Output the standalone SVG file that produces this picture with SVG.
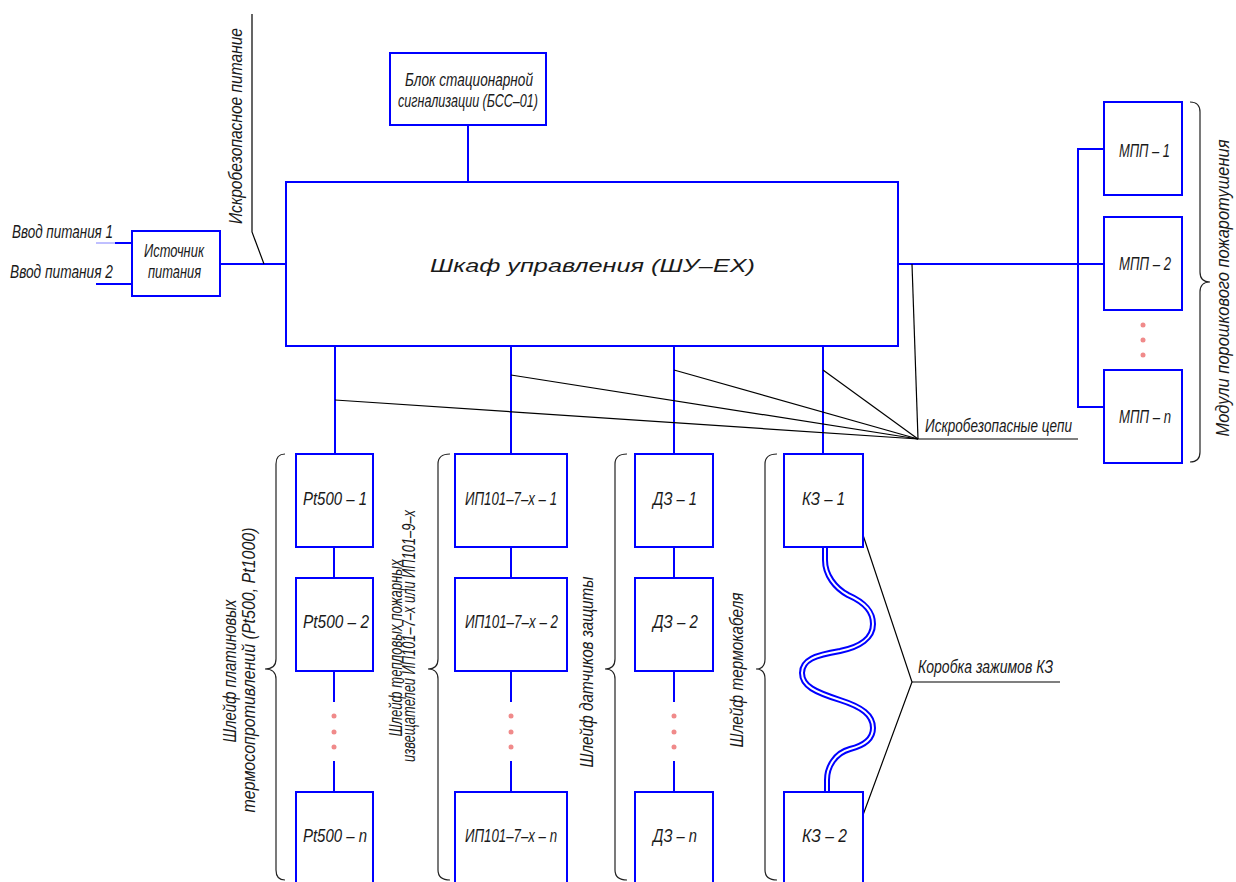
<svg xmlns="http://www.w3.org/2000/svg" width="1236" height="882" viewBox="0 0 1236 882">
<style>
.box{fill:#fff;stroke:#0000ff;stroke-width:2}
.w{fill:none;stroke:#0000ff;stroke-width:2}
.k{fill:none;stroke:#000;stroke-width:1.2}
.br{fill:none;stroke:#222;stroke-width:1.2}
.dot{fill:#f08a8a}
text{font-family:"Liberation Sans","DejaVu Sans",sans-serif;font-style:italic;fill:#1a1a1a;font-size:19px}
</style>
<rect width="1236" height="882" fill="#fff"/>
<g id="connectors">
  <line x1="96" y1="243" x2="115" y2="243" stroke="#8080ff" stroke-width="1"/>
  <line x1="115" y1="243" x2="132" y2="243" class="w"/>
  <line x1="96" y1="284" x2="132" y2="284" class="w"/>
  <line x1="220" y1="264" x2="286" y2="264" class="w"/>
  <line x1="468" y1="125" x2="468" y2="182" class="w"/>
  <polyline points="898,264 1078,264" class="w"/>
  <polyline points="1104,149 1078,149 1078,407 1104,407" class="w"/>
  <line x1="1078" y1="264" x2="1104" y2="264" class="w"/>
  <line x1="335" y1="346" x2="335" y2="454" class="w"/>
  <line x1="511" y1="346" x2="511" y2="454" class="w"/>
  <line x1="674" y1="346" x2="674" y2="454" class="w"/>
  <line x1="823" y1="346" x2="823" y2="454" class="w"/>
  <line x1="334" y1="547" x2="334" y2="578" class="w"/>
  <line x1="334" y1="671" x2="334" y2="702" class="w"/>
  <line x1="334" y1="761" x2="334" y2="792" class="w"/>
  <line x1="511" y1="547" x2="511" y2="578" class="w"/>
  <line x1="511" y1="671" x2="511" y2="702" class="w"/>
  <line x1="511" y1="761" x2="511" y2="792" class="w"/>
  <line x1="674" y1="547" x2="674" y2="578" class="w"/>
  <line x1="674" y1="671" x2="674" y2="702" class="w"/>
  <line x1="674" y1="761" x2="674" y2="792" class="w"/>
  <path id="thermocable" d="M825,547 L825,560 C825,575 835,588 848,595 C866,603 873,612 873,624 C873,638 860,647 840,651 C815,655 802,660 802,673 C802,686 815,692 840,700 C862,707 873,715 873,728 C873,740 862,746 850,749 C835,753 827,767 827,780 L827,792" fill="none" stroke="#0000ff" stroke-width="6"/>
  <path d="M825,547 L825,560 C825,575 835,588 848,595 C866,603 873,612 873,624 C873,638 860,647 840,651 C815,655 802,660 802,673 C802,686 815,692 840,700 C862,707 873,715 873,728 C873,740 862,746 850,749 C835,753 827,767 827,780 L827,792" fill="none" stroke="#fff" stroke-width="2"/>
  <polyline points="252,14 252,232 264,264" class="k"/>
  <line x1="912" y1="264" x2="918" y2="439" class="k"/>
  <line x1="335" y1="400" x2="918" y2="439" class="k"/>
  <line x1="511" y1="375" x2="918" y2="439" class="k"/>
  <line x1="674" y1="370" x2="918" y2="439" class="k"/>
  <line x1="823" y1="370" x2="918" y2="439" class="k"/>
  <line x1="918" y1="439" x2="1078" y2="439" class="k"/>
  <polyline points="863,535 912,682 863,815" class="k"/>
  <line x1="912" y1="682" x2="1060" y2="682" class="k"/>
  <path d="M285,454 Q276,454 276,464 L276,659 Q276,669 265,669 Q276,669 276,679 L276,870 Q276,880 285,880" class="br"/>
  <path d="M450,454 Q438,454 438,464 L438,659 Q438,669 428,669 Q438,669 438,679 L438,870 Q438,880 450,880" class="br"/>
  <path d="M627,454 Q615,454 615,464 L615,659 Q615,669 605,669 Q615,669 615,679 L615,870 Q615,880 627,880" class="br"/>
  <path d="M777,454 Q765,454 765,464 L765,659 Q765,669 756,669 Q765,669 765,679 L765,870 Q765,880 777,880" class="br"/>
  <path d="M1190,102 Q1200,102 1200,112 L1200,272 Q1200,282 1210,282 Q1200,282 1200,292 L1200,452 Q1200,462 1190,462" class="br"/>
  <circle cx="334" cy="716" r="2.5" class="dot"/><circle cx="334" cy="732" r="2.5" class="dot"/><circle cx="334" cy="747" r="2.5" class="dot"/>
  <circle cx="511" cy="716" r="2.5" class="dot"/><circle cx="511" cy="732" r="2.5" class="dot"/><circle cx="511" cy="747" r="2.5" class="dot"/>
  <circle cx="674" cy="716" r="2.5" class="dot"/><circle cx="674" cy="732" r="2.5" class="dot"/><circle cx="674" cy="747" r="2.5" class="dot"/>
  <circle cx="1143" cy="325" r="2.5" class="dot"/><circle cx="1143" cy="340" r="2.5" class="dot"/><circle cx="1143" cy="355" r="2.5" class="dot"/>
</g>
<g id="labels">
  <text x="12" y="238" font-size="15" textLength="101" lengthAdjust="spacingAndGlyphs">Ввод питания 1</text>
  <text x="10" y="278" font-size="15" textLength="103" lengthAdjust="spacingAndGlyphs">Ввод питания 2</text>
  <text transform="translate(242,126) rotate(-90)" text-anchor="middle" font-size="17" textLength="196" lengthAdjust="spacingAndGlyphs">Искробезопасное питание</text>
  <text x="925" y="432" textLength="147" lengthAdjust="spacingAndGlyphs">Искробезопасные цепи</text>
  <text x="918" y="673" textLength="135" lengthAdjust="spacingAndGlyphs">Коробка зажимов КЗ</text>
  <text transform="translate(1229,288) rotate(-90)" text-anchor="middle" textLength="297" lengthAdjust="spacingAndGlyphs">Модули порошкового пожаротушения</text>
  <text transform="translate(236,671) rotate(-90)" text-anchor="middle" font-size="18" textLength="143" lengthAdjust="spacingAndGlyphs">Шлейф платиновых</text>
  <text transform="translate(255,670) rotate(-90)" text-anchor="middle" font-size="18" textLength="285" lengthAdjust="spacingAndGlyphs">термосопротивлений (Pt500, Pt1000)</text>
  <text transform="translate(402,648) rotate(-90)" text-anchor="middle" font-size="13" textLength="177" lengthAdjust="spacingAndGlyphs">Шлейф тепловых пожарных</text>
  <text transform="translate(415,636) rotate(-90)" text-anchor="middle" font-size="13" textLength="252" lengthAdjust="spacingAndGlyphs">извещателей ИП101–7–х или ИП101–9–х</text>
  <text transform="translate(593,672) rotate(-90)" text-anchor="middle" textLength="191" lengthAdjust="spacingAndGlyphs">Шлейф датчиков защиты</text>
  <text transform="translate(743,670) rotate(-90)" text-anchor="middle" textLength="155" lengthAdjust="spacingAndGlyphs">Шлейф термокабеля</text>
</g>
<g id="node-source">
  <rect x="132" y="231" width="88" height="65" class="box"/>
  <text x="144" y="257" font-size="15" textLength="60" lengthAdjust="spacingAndGlyphs">Источник</text>
  <text x="148" y="278" font-size="15" textLength="53" lengthAdjust="spacingAndGlyphs">питания</text>
</g>
<g id="node-bss">
  <rect x="390" y="53" width="156" height="72" class="box"/>
  <text x="405" y="86" font-size="17" textLength="128" lengthAdjust="spacingAndGlyphs">Блок стационарной</text>
  <text x="398" y="107" font-size="17" textLength="140" lengthAdjust="spacingAndGlyphs">сигнализации (БСС–01)</text>
</g>
<g id="node-shu">
  <rect x="286" y="182" width="612" height="164" class="box"/>
  <text x="430" y="272" font-size="40" textLength="325" lengthAdjust="spacingAndGlyphs">Шкаф управления (ШУ–ЕХ)</text>
</g>
<g id="node-mpp1"><rect x="1104" y="102" width="78" height="93" class="box"/><text x="1119" y="157" textLength="51" lengthAdjust="spacingAndGlyphs">МПП – 1</text></g>
<g id="node-mpp2"><rect x="1104" y="217" width="78" height="93" class="box"/><text x="1119" y="270" textLength="52" lengthAdjust="spacingAndGlyphs">МПП – 2</text></g>
<g id="node-mppn"><rect x="1104" y="370" width="78" height="93" class="box"/><text x="1119" y="423" textLength="52" lengthAdjust="spacingAndGlyphs">МПП – n</text></g>
<g id="node-pt1"><rect x="296" y="454" width="77" height="93" class="box"/><text x="303" y="505" textLength="64" lengthAdjust="spacingAndGlyphs">Pt500 – 1</text></g>
<g id="node-pt2"><rect x="296" y="578" width="77" height="93" class="box"/><text x="303" y="628" textLength="66" lengthAdjust="spacingAndGlyphs">Pt500 – 2</text></g>
<g id="node-ptn"><rect x="296" y="792" width="77" height="100" class="box"/><text x="303" y="842" textLength="64" lengthAdjust="spacingAndGlyphs">Pt500 – n</text></g>
<g id="node-ip1"><rect x="455" y="454" width="112" height="93" class="box"/><text x="465" y="505" textLength="92" lengthAdjust="spacingAndGlyphs">ИП101–7–х – 1</text></g>
<g id="node-ip2"><rect x="455" y="578" width="112" height="93" class="box"/><text x="465" y="628" textLength="93" lengthAdjust="spacingAndGlyphs">ИП101–7–х – 2</text></g>
<g id="node-ipn"><rect x="455" y="792" width="112" height="100" class="box"/><text x="465" y="842" textLength="92" lengthAdjust="spacingAndGlyphs">ИП101–7–х – n</text></g>
<g id="node-dz1"><rect x="635" y="454" width="78" height="93" class="box"/><text x="653" y="505" textLength="44" lengthAdjust="spacingAndGlyphs">ДЗ – 1</text></g>
<g id="node-dz2"><rect x="635" y="578" width="78" height="93" class="box"/><text x="653" y="628" textLength="45" lengthAdjust="spacingAndGlyphs">ДЗ – 2</text></g>
<g id="node-dzn"><rect x="635" y="792" width="78" height="100" class="box"/><text x="653" y="842" textLength="44" lengthAdjust="spacingAndGlyphs">ДЗ – n</text></g>
<g id="node-kz1"><rect x="784" y="454" width="79" height="93" class="box"/><text x="802" y="505" textLength="43" lengthAdjust="spacingAndGlyphs">КЗ – 1</text></g>
<g id="node-kz2"><rect x="784" y="792" width="79" height="100" class="box"/><text x="802" y="842" textLength="45" lengthAdjust="spacingAndGlyphs">КЗ – 2</text></g>
</svg>
